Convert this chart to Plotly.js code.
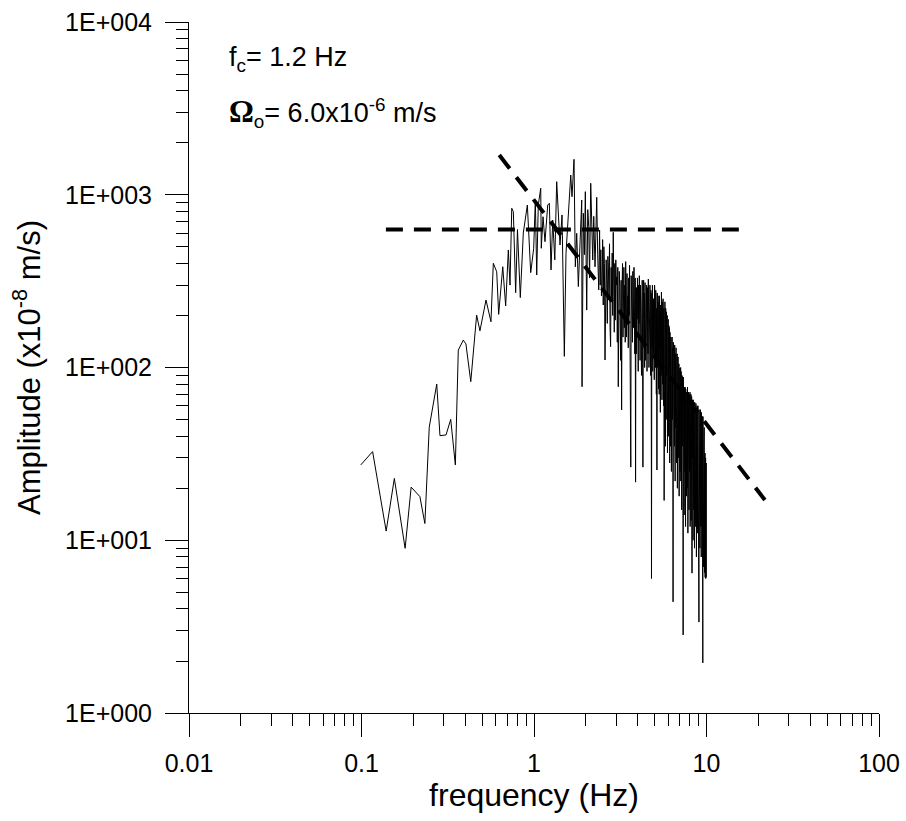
<!DOCTYPE html>
<html>
<head>
<meta charset="utf-8">
<script src="https://cdn.plot.ly/plotly-3.0.1.min.js"></script>
<style>html,body{margin:0;padding:0;background:#fff;}</style>
</head>
<body>
<div id="chart" style="width:906px;height:821px;"></div>
<script>
// Spectrum frequencies (Hz)
const freq = [
0.099, 0.116, 0.139, 0.155, 0.179, 0.194, 0.218, 0.233, 0.247, 0.273, 0.285, 0.309, 0.329, 0.350,
0.364, 0.389, 0.403, 0.430, 0.465, 0.486, 0.527, 0.563, 0.581, 0.608, 0.624, 0.659, 0.685, 0.710, 0.726, 0.743, 0.759, 0.783, 0.802, 0.833, 0.867, 0.915, 0.957, 0.996,
1.018, 1.037, 1.059, 1.094, 1.102, 1.128, 1.158, 1.201, 1.227, 1.255, 1.284, 1.320, 1.354, 1.378, 1.415, 1.454, 1.499, 1.533, 1.590, 1.633, 1.661, 1.706, 1.736, 1.769, 1.807, 1.850, 1.891, 1.899, 1.932, 1.960, 1.984, 2.021, 2.050, 2.076, 2.100, 2.132, 2.160, 2.190, 2.220, 2.258, 2.280, 2.310, 2.340, 2.373,
2.40, 2.42, 2.44, 2.46, 2.48, 2.50, 2.52, 2.54, 2.56, 2.58,
2.60, 2.62, 2.64, 2.66, 2.68, 2.70, 2.72, 2.74, 2.76, 2.78,
2.80, 2.82, 2.84, 2.86, 2.88, 2.90, 2.92, 2.94, 2.96, 2.98,
3.00, 3.02, 3.04, 3.06, 3.08, 3.10, 3.12, 3.14, 3.16, 3.18,
3.20, 3.22, 3.24, 3.26, 3.28, 3.30,
3.32, 3.34, 3.36, 3.38, 3.40, 3.42, 3.44, 3.46, 3.48, 3.50,
3.52, 3.54, 3.56, 3.58, 3.60, 3.62, 3.64, 3.66, 3.68, 3.70,
3.72, 3.74, 3.76, 3.78, 3.80, 3.82, 3.84, 3.86, 3.88, 3.90,
3.92, 3.94, 3.96, 3.98, 4.00, 4.02, 4.04, 4.06, 4.08, 4.10,
4.12, 4.14, 4.16, 4.18, 4.20, 4.22, 4.24, 4.26, 4.28, 4.30,
4.32, 4.34, 4.36, 4.38, 4.40, 4.42, 4.44, 4.46, 4.48, 4.50,
4.52, 4.54, 4.56, 4.58, 4.60, 4.62, 4.64, 4.66, 4.68, 4.70,
4.72, 4.74, 4.76, 4.78, 4.80, 4.82, 4.84, 4.86, 4.88, 4.90,
4.92, 4.94, 4.96, 4.98, 5.00, 5.02, 5.04, 5.06, 5.08, 5.10,
5.12, 5.14, 5.16, 5.18, 5.20, 5.22, 5.24, 5.26, 5.28, 5.30,
5.32, 5.34, 5.36, 5.38, 5.40, 5.42, 5.44, 5.46, 5.48, 5.50,
5.52, 5.54, 5.56, 5.58, 5.60, 5.62, 5.64, 5.66, 5.68, 5.70,
5.72, 5.74, 5.76, 5.78, 5.80, 5.82, 5.84, 5.86, 5.88, 5.90,
5.92, 5.94, 5.96, 5.98, 6.00, 6.02, 6.04, 6.06, 6.08, 6.10,
6.12, 6.14, 6.16, 6.18, 6.20, 6.22, 6.24, 6.26, 6.28, 6.30,
6.32, 6.34, 6.36, 6.38, 6.40, 6.42, 6.44, 6.46, 6.48, 6.50,
6.52, 6.54, 6.56, 6.58, 6.60, 6.62, 6.64, 6.66, 6.68, 6.70,
6.72, 6.74, 6.76, 6.78, 6.80, 6.82, 6.84, 6.86, 6.88, 6.90,
6.92, 6.94, 6.96, 6.98, 7.00, 7.02, 7.04, 7.06, 7.08, 7.10,
7.12, 7.14, 7.16, 7.18, 7.20, 7.22, 7.24, 7.26, 7.28, 7.30,
7.32, 7.34, 7.36, 7.38, 7.40, 7.42, 7.44, 7.46, 7.48, 7.50,
7.52, 7.54, 7.56, 7.58, 7.60, 7.62, 7.64, 7.66, 7.68, 7.70,
7.72, 7.74, 7.76, 7.78, 7.80, 7.82, 7.84, 7.86, 7.88, 7.90,
7.92, 7.94, 7.96, 7.98, 8.00, 8.02, 8.04, 8.06, 8.08, 8.10,
8.12, 8.14, 8.16, 8.18, 8.20, 8.22, 8.24, 8.26, 8.28, 8.30,
8.32, 8.34, 8.36, 8.38, 8.40, 8.42, 8.44, 8.46, 8.48, 8.50,
8.52, 8.54, 8.56, 8.58, 8.60, 8.62, 8.64, 8.66, 8.68, 8.70,
8.72, 8.74, 8.76, 8.78, 8.80, 8.82, 8.84, 8.86, 8.88, 8.90,
8.92, 8.94, 8.96, 8.98, 9.00, 9.02, 9.04, 9.06, 9.08, 9.10,
9.12, 9.14, 9.16, 9.18, 9.20, 9.22, 9.24, 9.26, 9.28, 9.30,
9.32, 9.34, 9.36, 9.38, 9.40, 9.42, 9.44, 9.46, 9.48, 9.50,
9.52, 9.54, 9.56, 9.58, 9.60, 9.62, 9.64, 9.66, 9.68, 9.70,
9.72, 9.74, 9.76, 9.78, 9.80, 9.82, 9.84, 9.86, 9.88, 9.90, 9.92, 9.94, 9.96, 9.98
];
// Spectrum amplitudes (x10^-8 m/s)
const amp = [
27.3, 32.6, 11.3, 22.8, 8.98, 20.3, 17.9, 12.5, 45.1, 80.2, 40.3, 40.7, 50.1, 27.3,
126, 144, 137, 82.8, 201, 163, 246, 184, 401, 358, 203, 383, 227, 479, 300, 835, 798, 271, 629, 254, 601, 872, 354, 490,
932, 343, 872, 1090, 490, 746, 535, 872, 892, 367, 714, 420, 1190, 892, 512, 764, 116, 458, 932, 1301, 974, 1604, 383, 598, 294, 520, 932, 77.4, 781, 450, 1042, 215, 820, 654, 330, 1165, 600, 419, 750, 383, 560, 967, 450, 281,
625, 300, 480, 260, 294, 550, 230, 500, 400, 110.5,
210, 420, 321, 180, 440, 380, 246, 520, 170, 132,
380, 250, 460, 200, 606, 330, 160, 400, 188, 420,
300, 335, 140, 380, 77.4, 260, 360, 294, 180, 110,
320, 56.8, 280, 400, 150, 225,
380, 170, 300, 140, 410, 220, 150, 350, 180, 260,
130, 330, 200, 390, 150, 240, 26.5, 340, 160, 300,
140, 360, 220, 170, 380, 250, 120, 330, 21.7, 290,
120, 290, 190, 330, 150, 95, 300, 180, 340, 130,
110, 300, 170, 270, 90, 230, 320, 140, 26.5, 250,
320, 130, 270, 100, 310, 190, 110, 280, 150, 300,
95, 290, 160, 120, 325, 200, 100, 260, 140, 300,
240, 90, 280, 160, 6.0, 270, 130, 300, 95, 250,
120, 250, 180, 85, 300, 140, 240, 100, 280, 160,
70, 220, 25.5, 270, 150, 100, 260, 190, 75, 240,
70, 260, 130, 200, 55, 230, 160, 90, 273, 120,
65, 240, 150, 80, 250, 190, 60, 220, 17, 200,
60, 240, 130, 35, 220, 170, 50, 210, 90, 180,
200, 32, 160, 110, 190, 40, 175, 120, 55, 170,
28, 160, 90, 120, 35, 150, 100, 25, 140, 70,
150, 50, 130, 90, 4.4, 140, 30, 120, 60, 135,
35, 135, 80, 22, 120, 100, 45, 130, 60, 28,
110, 45, 120, 20, 100, 75, 115, 30, 90, 60,
105, 18, 90, 65, 99, 25, 85, 50, 100, 22,
95, 40, 85, 15, 90, 55, 20, 88, 35, 80,
2.83, 88, 30, 80, 55, 14, 77, 40, 70, 25,
77, 45, 12, 75, 28, 70, 50, 18, 72, 35,
70, 20, 77, 40, 11, 65, 35, 72, 25, 60,
15, 70, 45, 60, 25, 72, 12, 65, 38, 55,
70, 13, 55, 40, 68, 22, 6.45, 60, 30, 65,
18, 60, 10, 65, 35, 55, 15, 62, 28, 50,
9, 63, 40, 20, 58, 12, 50, 30, 62, 15,
58, 8, 55, 35, 15, 60, 25, 52, 11, 48,
60, 20, 55, 11, 50, 30, 3.36, 57, 15, 45,
18, 55, 9, 50, 28, 57, 12, 45, 35, 52,
8, 55, 30, 50, 12, 45, 20, 52, 10, 40,
1.95, 52, 15, 48, 7, 40, 25, 35, 10, 45,
30, 6.5, 28, 12, 32, 6.1, 25, 8, 30, 6.0, 20, 6.3, 28, 6.1
];
// Flat (low-frequency level) dashed line
const flatFreq = [0.1385, 15.4];
const flatAmp = [630, 630];
// High-frequency decay dashed line
const slopeFreq = [0.629, 21.8];
const slopeAmp = [1698, 17.1];
// Tick labels
const xTickVals = [0.01, 0.1, 1, 10, 100];
const xTickText = ['0.01', '0.1', '1', '10', '100'];
const yTickVals = [1, 10, 100, 1000, 10000];
const yTickText = ['1E+000', '1E+001', '1E+002', '1E+003', '1E+004'];

const traces = [
  {x: freq, y: amp, type: 'scatter', mode: 'lines', line: {color: '#000', width: 1}, hoverinfo: 'skip'},
  {x: flatFreq, y: flatAmp, type: 'scatter', mode: 'lines', line: {color: '#000', width: 4, dash: '17px,11px'}, hoverinfo: 'skip'},
  {x: slopeFreq, y: slopeAmp, type: 'scatter', mode: 'lines', line: {color: '#000', width: 4, dash: '17px,11px'}, hoverinfo: 'skip'}
];

const axisCommon = {
  type: 'log', showline: true, linecolor: '#000', linewidth: 1, mirror: false,
  showgrid: false, zeroline: false, ticks: 'outside', ticklen: 23, tickwidth: 1, tickcolor: '#000',
  tickmode: 'array', tickfont: {size: 25, color: '#000'},
  minor: {ticks: 'outside', ticklen: 12, tickwidth: 1, tickcolor: '#000', dtick: 'D1', showgrid: false}
};

const layout = {
  width: 906, height: 821,
  margin: {l: 189, r: 27, t: 22, b: 108},
  paper_bgcolor: '#fff', plot_bgcolor: '#fff',
  showlegend: false,
  font: {family: 'Liberation Sans, Arial, sans-serif', color: '#000'},
  xaxis: Object.assign({}, axisCommon, {
    range: [-2, 2], tickvals: xTickVals, ticktext: xTickText, ticklabelstandoff: 5,
    title: {text: 'frequency (Hz)', font: {size: 32, color: '#000'}, standoff: 2}
  }),
  yaxis: Object.assign({}, axisCommon, {
    range: [0, 4], tickvals: yTickVals, ticktext: yTickText, ticklabelstandoff: 8,
    title: {text: 'Amplitude (x10<sup>-8</sup> m/s)', font: {size: 31, color: '#000'}, standoff: 15}
  }),
  annotations: [
    {xref: 'paper', yref: 'paper', x: 0.055, y: 0.946, xanchor: 'left', yanchor: 'middle', showarrow: false,
     text: 'f<sub>c</sub>= 1.2 Hz', font: {size: 27, color: '#000'}},
    {xref: 'paper', yref: 'paper', x: 0.055, y: 0.868, xanchor: 'left', yanchor: 'middle', showarrow: false,
     text: '<b><span style="font-family:Liberation Serif;font-size:31px">Ω</span></b><sub>o</sub>= 6.0x10<sup>-6</sup> m/s', font: {size: 27, color: '#000'}}
  ]
};

Plotly.newPlot('chart', traces, layout, {displayModeBar: false, staticPlot: true});
</script>
</body>
</html>
